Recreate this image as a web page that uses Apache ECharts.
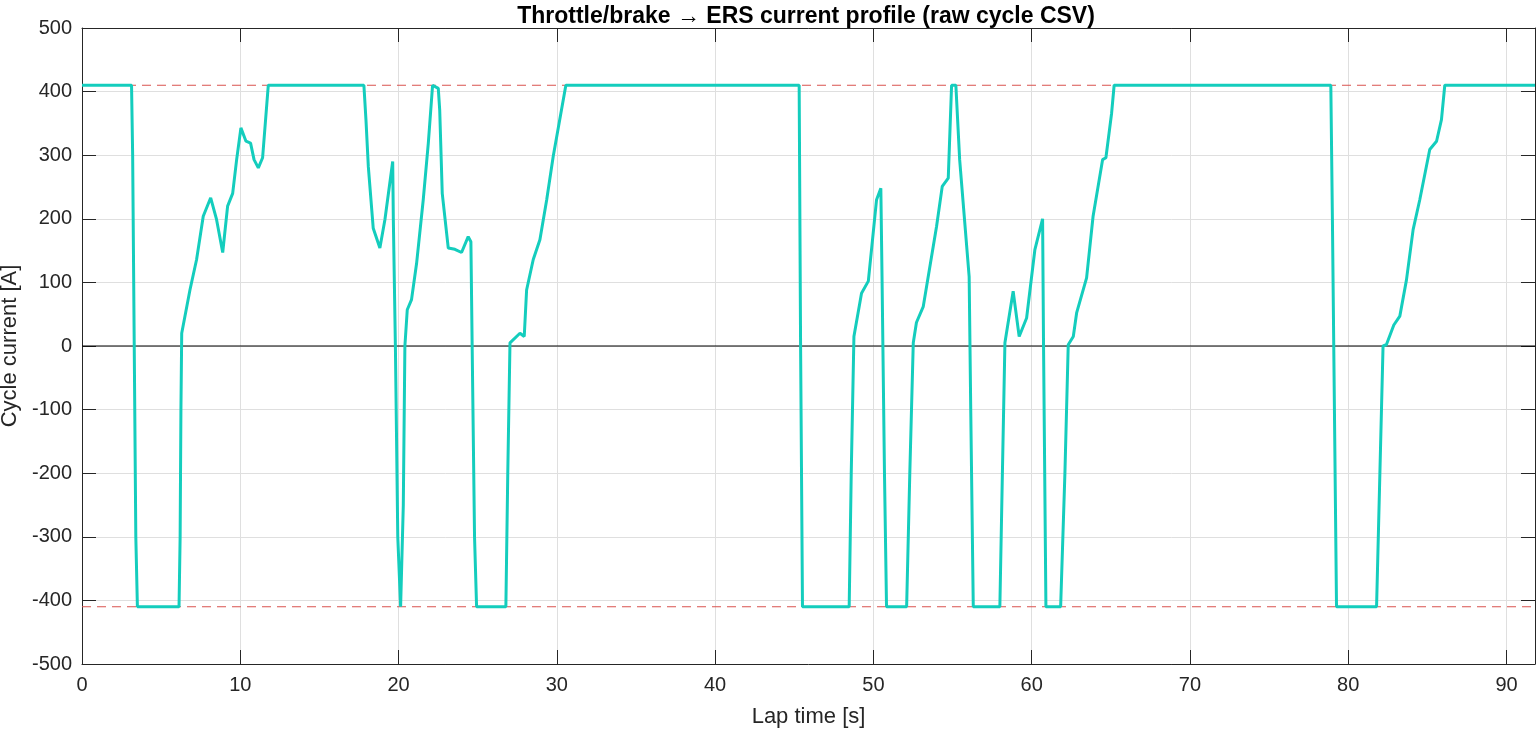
<!DOCTYPE html>
<html>
<head>
<meta charset="utf-8">
<script src="https://cdn.jsdelivr.net/npm/echarts@6/dist/echarts.min.js"></script>
<style>
  html, body { margin: 0; padding: 0; background: #fff; }
  #chart { width: 1537px; height: 731px; }
</style>
</head>
<body>
<div id="chart"></div>
<script>
// lap time [s] and cycle current [A]
const lapTime = [
  0, 3.13, 3.2, 3.3, 3.4, 3.5, 6.13, 6.2, 6.25, 6.3, 6.82, 7.24, 7.66, 8.13, 8.5, 8.89,
  9.2, 9.52, 9.77, 10.04, 10.36, 10.65, 10.87, 11.14, 11.41, 11.77, 17.81, 17.94, 18.09,
  18.4, 18.82, 19.14, 19.63, 19.67, 19.8, 19.95, 20.13, 20.3, 20.4, 20.55, 20.82, 21.14,
  21.56, 21.88, 22.15, 22.51, 22.6, 22.76, 23.14, 23.56, 23.98, 24.4, 24.57, 24.65, 24.8,
  24.93, 26.78, 26.9, 27.04, 27.67, 27.94, 28.09, 28.51, 28.93, 29.36, 29.77, 30.57,
  45.31, 45.4, 45.52, 48.47, 48.6, 48.77, 49.25, 49.68, 50.2, 50.47, 50.55, 50.7, 50.83,
  52.1, 52.3, 52.52, 52.72, 53.15, 53.99, 54.35, 54.73, 54.94, 55.21, 55.45, 56.05, 56.15,
  56.31, 57.99, 58.15, 58.31, 58.83, 59.21, 59.68, 60.2, 60.69, 60.75, 60.9, 61.83, 62.1,
  62.31, 62.63, 62.84, 63.47, 63.88, 64.48, 64.69, 65.05, 65.21, 78.9, 79.0, 79.26, 81.79,
  82.0, 82.2, 82.41, 82.88, 83.26, 83.68, 84.1, 84.52, 85.15, 85.58, 85.89, 86.1, 91.8
];
const current = [
  410, 410, 300, 0, -300, -410, -410, -300, -100, 20, 88, 136, 204, 233, 199, 147,
  220, 240, 293, 343, 322, 319, 293, 280, 296, 410, 410, 356, 282,
  185, 154, 199, 290, 199, 0, -300, -410, -250, 0, 57, 73, 130,
  230, 319, 410, 405, 371, 240, 154, 152, 147, 172, 164, 0, -300,
  -410, -410, -200, 5, 20, 15, 88, 136, 167, 230, 298, 410,
  410, 0, -410, -410, -200, 15, 83, 102, 230, 248, 100, -200, -410,
  -410, -200, 5, 37, 62, 188, 251, 264, 410, 410, 293, 109, -100,
  -410, -410, -200, 5, 86, 15, 44, 151, 200, 0, -410, -410, -200,
  2, 15, 52, 107, 204, 293, 296, 366, 410, 410, 200, -410, -410,
  -200, 0, 2, 33, 47, 104, 183, 230, 309, 322, 356, 410, 410
];
const currentLimits = [410, -410];
const timeRange = [0, 91.8];
const xTicks = [0, 10, 20, 30, 40, 50, 60, 70, 80, 90];
const yTicks = [-500, -400, -300, -200, -100, 0, 100, 200, 300, 400, 500];

const chart = echarts.init(document.getElementById('chart'));
const fontFamily = 'Liberation Sans, Arial, Helvetica, sans-serif';
const ink = '#262626';

// top / right copies only draw the box edge and its inward ticks
const boxAxis = {
  axisLine: { show: true, onZero: false, lineStyle: { color: ink, width: 1 } },
  axisTick: { show: true, inside: true, length: 14, lineStyle: { color: ink } },
  axisLabel: { show: false },
  splitLine: { show: false }
};

// dashed +/- limit lines as plain line series
const limitSeries = currentLimits.map(v => ({
  type: 'line',
  name: 'limit ' + v,
  showSymbol: false,
  silent: true,
  z: 3,
  lineStyle: { color: '#d9534f', type: [9, 6], width: 1.2 },
  itemStyle: { color: '#d9534f' },
  data: timeRange.map(t => [t, v])
}));

const option = {
  animation: false,
  title: {
    text: 'Throttle/brake \u2192 ERS current profile (raw cycle CSV)',
    left: 801, top: 0, textAlign: 'center',
    textStyle: { fontFamily, fontSize: 23, fontWeight: 'bold', color: '#000' }
  },
  grid: { left: 82, right: 2, top: 28, bottom: 67, outerBoundsMode: 'none', containLabel: false },
  xAxis: [
    {
      type: 'value', min: 0, max: 91.8, interval: 10, position: 'bottom',
      name: 'Lap time [s]', nameLocation: 'middle', nameGap: 42,
      nameTextStyle: { fontFamily, fontSize: 22, color: ink },
      axisLine: { show: true, onZero: false, lineStyle: { color: ink, width: 1 } },
      axisTick: { show: true, inside: true, length: 14, lineStyle: { color: ink } },
      axisLabel: {
        fontFamily, fontSize: 20, color: ink, margin: 11,
        formatter: v => (xTicks.includes(v) ? String(v) : '')
      },
      splitLine: { show: true, lineStyle: { color: '#dfdfdf', width: 1 } }
    },
    Object.assign({ type: 'value', min: 0, max: 91.8, interval: 10, position: 'top' }, boxAxis)
  ],
  yAxis: [
    {
      type: 'value', min: -500, max: 500, interval: 100, position: 'left',
      name: 'Cycle current [A]', nameLocation: 'middle', nameGap: 57,
      nameTextStyle: { fontFamily, fontSize: 22, color: ink },
      axisLine: { show: true, onZero: false, lineStyle: { color: ink, width: 1 } },
      axisTick: { show: true, inside: true, length: 14, lineStyle: { color: ink } },
      axisLabel: {
        fontFamily, fontSize: 20, color: ink, margin: 10,
        formatter: v => (yTicks.includes(v) ? String(v) : '')
      },
      splitLine: { show: true, lineStyle: { color: '#dfdfdf', width: 1 } }
    },
    Object.assign({ type: 'value', min: -500, max: 500, interval: 100, position: 'right' }, boxAxis)
  ],
  series: [
    ...limitSeries,
    {
      type: 'line',
      name: 'zero',
      showSymbol: false,
      silent: true,
      z: 2,
      lineStyle: { color: '#000', width: 1.2 },
      itemStyle: { color: '#000' },
      data: timeRange.map(t => [t, 0])
    },
    {
      type: 'line',
      name: 'current',
      showSymbol: false,
      z: 5,
      lineStyle: { color: '#14cdbd', width: 3 },
      itemStyle: { color: '#14cdbd' },
      data: lapTime.map((t, i) => [t, current[i]])
    }
  ]
};

chart.setOption(option);
window.addEventListener('resize', () => chart.resize());
</script>
</body>
</html>
